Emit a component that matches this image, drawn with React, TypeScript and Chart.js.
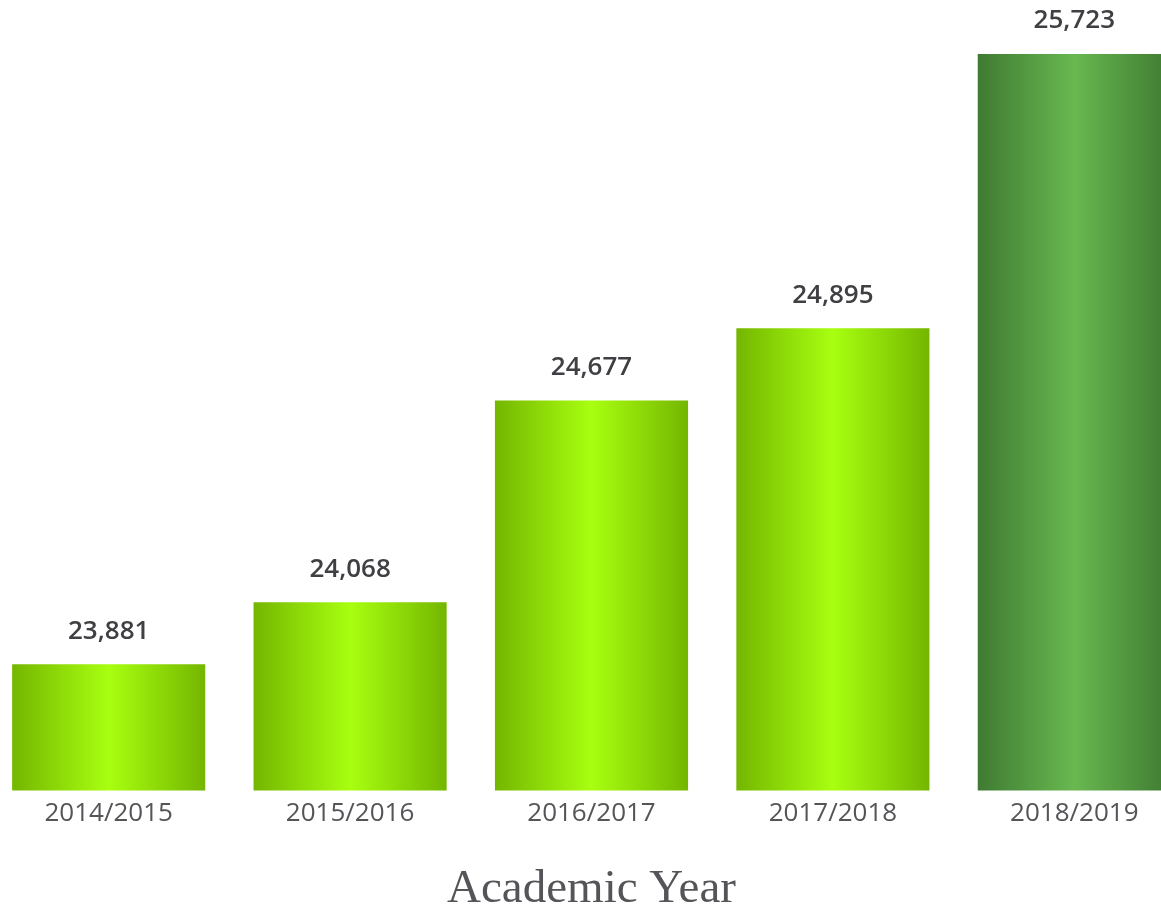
import React, { useEffect, useRef } from "react";
import { Chart, registerables } from "chart.js";

Chart.register(...registerables);

const categories = ["2014/2015", "2015/2016", "2016/2017", "2017/2018", "2018/2019"];
const values = [23881, 24068, 24677, 24895, 25723];
const edgeColors = ["#74b600", "#74b600", "#74b600", "#74b600", "#3f7a31"];
const centerColors = ["#a8ff10", "#a8ff10", "#a8ff10", "#a8ff10", "#68b850"];
const axisMin = 23500;
const axisMax = 25723;
const xTitle = "Academic Year";

const CANVAS_W = 1207;
const CANVAS_H = 920;
const BAR_PCT = 0.8;

export default function App() {
  const ref = useRef<HTMLCanvasElement | null>(null);

  useEffect(() => {
    if (!ref.current) return;
    const labelPlugin = {
      id: "valueLabels",
      afterDatasetsDraw(chart: any) {
        const ctx = chart.ctx;
        const meta = chart.getDatasetMeta(0);
        ctx.save();
        ctx.font = "600 26px 'Open Sans'";
        ctx.fillStyle = "#404044";
        ctx.textAlign = "center";
        ctx.textBaseline = "middle";
        meta.data.forEach((bar: any, i: number) => {
          ctx.fillText(values[i].toLocaleString("en-US"), bar.x, bar.y - 33);
        });
        ctx.restore();
      },
    };

    const chart = new Chart(ref.current, {
      type: "bar",
      data: {
        labels: categories,
        datasets: [
          {
            data: values,
            barPercentage: BAR_PCT,
            categoryPercentage: 1,
            borderWidth: 0,
            backgroundColor: (c: any) => {
              const ch = c.chart;
              const i = c.dataIndex ?? 0;
              if (!ch.chartArea || c.type !== "data") return centerColors[i];
              const xs = ch.scales.x;
              const cx = xs.getPixelForValue(i);
              const w = (xs.width / categories.length) * BAR_PCT;
              const g = ch.ctx.createLinearGradient(cx - w / 2, 0, cx + w / 2, 0);
              g.addColorStop(0, edgeColors[i]);
              g.addColorStop(0.5, centerColors[i]);
              g.addColorStop(1, edgeColors[i]);
              return g;
            },
          },
        ],
      },
      options: {
        responsive: false,
        animation: false,
        layout: { padding: { top: 54, bottom: 0, left: 0, right: 0 } },
        plugins: { legend: { display: false }, tooltip: { enabled: false } },
        scales: {
          x: {
            grid: { display: false },
            border: { display: false },
            ticks: {
              color: "#555559",
              font: { family: "'Open Sans'", size: 26 },
              padding: 0,
              maxRotation: 0,
            },
            title: {
              display: true,
              text: xTitle,
              color: "#555559",
              font: { family: "'Liberation Serif', 'Times New Roman', serif", size: 47 },
              padding: { top: 32, bottom: 2 },
            },
          },
          y: {
            display: false,
            min: axisMin,
            max: axisMax,
          },
        },
      },
      plugins: [labelPlugin],
    });
    return () => chart.destroy();
  }, []);

  return (
    <div
      style={{
        position: "fixed",
        left: 0,
        top: 0,
        width: 1161,
        height: 909,
        overflow: "hidden",
        background: "#fff",
      }}
    >
      <canvas
        ref={ref}
        width={CANVAS_W}
        height={CANVAS_H}
        style={{ position: "absolute", left: -12, top: 0, width: CANVAS_W, height: CANVAS_H }}
      />
    </div>
  );
}
